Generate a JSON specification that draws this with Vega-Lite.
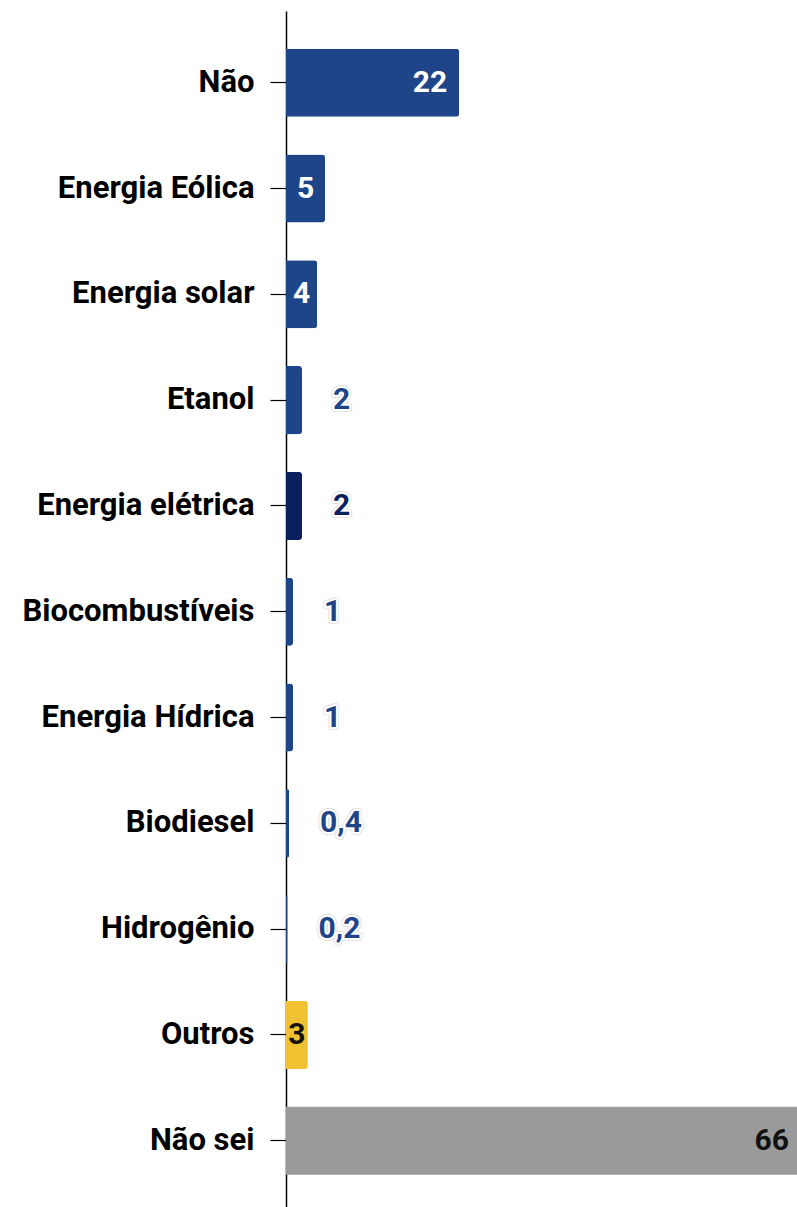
{
  "$schema": "https://vega.github.io/schema/vega-lite/v6.json",
  "autosize": {"type": "none"},
  "padding": {"left": 286, "top": 11, "right": 0, "bottom": 0},
  "width": 511,
  "height": 1196,
  "background": "white",
  "config": {"view": {"stroke": null}, "font": "Roboto"},
  "data": {
    "values": [
      {"cat": "Não", "v": 22.2, "label": "22"},
      {"cat": "Energia Eólica", "v": 5.0, "label": "5"},
      {"cat": "Energia solar", "v": 4.0, "label": "4"},
      {"cat": "Etanol", "v": 2.05, "label": "2"},
      {"cat": "Energia elétrica", "v": 2.05, "label": "2"},
      {"cat": "Biocombustíveis", "v": 0.9, "label": "1"},
      {"cat": "Energia Hídrica", "v": 0.9, "label": "1"},
      {"cat": "Biodiesel", "v": 0.4, "label": "0,4"},
      {"cat": "Hidrogênio", "v": 0.2, "label": "0,2"},
      {"cat": "Outros", "v": 2.8, "label": "3"},
      {"cat": "Não sei", "v": 66, "label": "66"}
    ]
  },
  "encoding": {
    "y": {
      "field": "cat",
      "type": "nominal",
      "sort": null,
      "scale": {"range": [0, 1201.5], "paddingInner": 0.357, "paddingOuter": 0.356},
      "axis": {
        "title": null,
        "labelFont": "Roboto",
        "labelFontSize": 31,
        "labelFontWeight": "bold",
        "labelColor": "#000000",
        "labelPadding": 16,
        "tickSize": 16,
        "tickColor": "#000000",
        "tickWidth": 1.2,
        "domainColor": "#000000",
        "domainWidth": 1.5,
        "labelLimit": 400
      }
    }
  },
  "layer": [
    {
      "transform": [{"filter": "datum.v < 60"}],
      "mark": {"type": "bar", "cornerRadiusEnd": 3},
      "encoding": {
        "x": {"field": "v", "type": "quantitative", "scale": {"domain": [0, 65.5], "clamp": true}, "axis": null},
        "color": {
          "field": "cat",
          "type": "nominal",
          "legend": null,
          "scale": {
            "domain": ["Não", "Energia Eólica", "Energia solar", "Etanol", "Energia elétrica", "Biocombustíveis", "Energia Hídrica", "Biodiesel", "Hidrogênio", "Outros", "Não sei"],
            "range": ["#1d4587", "#1d4587", "#1d4587", "#1d4587", "#0a1f5e", "#1d4587", "#1d4587", "#1d4587", "#1d4587", "#f0c232", "#9a9a9a"]
          }
        }
      }
    },
    {
      "transform": [{"filter": "datum.v >= 60"}],
      "mark": {"type": "bar", "color": "#9a9a9a"},
      "encoding": {
        "x": {"field": "v", "type": "quantitative", "scale": {"domain": [0, 65.5], "clamp": true}, "axis": null}
      }
    },
    {
      "transform": [{"filter": "datum.v > 10"}],
      "mark": {"type": "text", "align": "right", "baseline": "middle", "dx": -12, "font": "Roboto", "fontSize": 30, "fontWeight": "bold"},
      "encoding": {
        "x": {"field": "v", "type": "quantitative", "scale": {"domain": [0, 65.5]}, "axis": null},
        "text": {"field": "label"},
        "color": {"condition": {"test": "datum.cat === 'Não sei'", "value": "#111111"}, "value": "#ffffff"}
      }
    },
    {
      "transform": [{"filter": "datum.v >= 2.5 && datum.v <= 10"}],
      "mark": {"type": "text", "align": "center", "baseline": "middle", "font": "Roboto", "fontSize": 30, "fontWeight": "bold"},
      "encoding": {
        "x": {"field": "v", "type": "quantitative", "scale": {"domain": [0, 131]}, "axis": null},
        "text": {"field": "label"},
        "color": {"condition": {"test": "datum.cat === 'Outros'", "value": "#111111"}, "value": "#ffffff"}
      }
    },
    {
      "transform": [{"filter": "datum.v < 2.5"}],
      "mark": {"type": "text", "align": "left", "baseline": "middle", "dx": 31, "font": "Roboto", "fontSize": 30, "fontWeight": "bold", "stroke": "#dadada", "strokeWidth": 6, "fill": "#dadada", "strokeJoin": "round"},
      "encoding": {
        "x": {"field": "v", "type": "quantitative", "scale": {"domain": [0, 65.5]}, "axis": null},
        "text": {"field": "label"}
      }
    },
    {
      "transform": [{"filter": "datum.v < 2.5"}],
      "mark": {"type": "text", "align": "left", "baseline": "middle", "dx": 31, "font": "Roboto", "fontSize": 30, "fontWeight": "bold", "stroke": "#ffffff", "strokeWidth": 4.5, "fill": "#ffffff", "strokeJoin": "round"},
      "encoding": {
        "x": {"field": "v", "type": "quantitative", "scale": {"domain": [0, 65.5]}, "axis": null},
        "text": {"field": "label"}
      }
    },
    {
      "transform": [{"filter": "datum.v < 2.5"}],
      "mark": {"type": "text", "align": "left", "baseline": "middle", "dx": 31, "font": "Roboto", "fontSize": 30, "fontWeight": "bold"},
      "encoding": {
        "x": {"field": "v", "type": "quantitative", "scale": {"domain": [0, 65.5]}, "axis": null},
        "text": {"field": "label"},
        "color": {"condition": {"test": "datum.cat === 'Energia elétrica'", "value": "#0a1f5e"}, "value": "#1d4587"}
      }
    }
  ],
  "resolve": {"scale": {"x": "independent", "color": "independent"}}
}
